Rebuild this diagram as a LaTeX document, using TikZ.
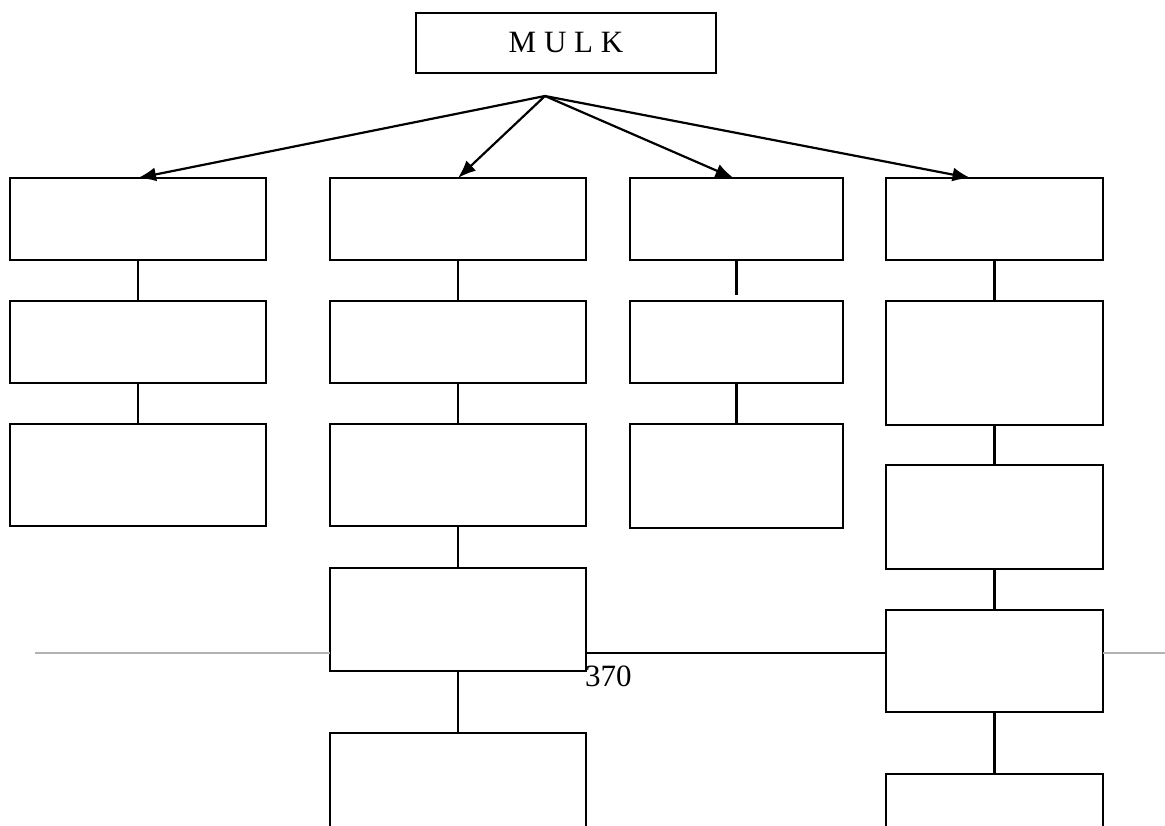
\documentclass[tikz,border=0pt]{standalone}
\usepackage{fontspec}
\setmainfont{Liberation Serif}
\usetikzlibrary{positioning, arrows.meta}
\tikzstyle{block} = [rectangle, 
draw=black, 
fill=white, 
line width=1.7pt, 
minimum width=256pt, 
minimum height=82pt, 
inner sep=0pt, 
outer sep=0pt]
\tikzstyle{title} = [block, 
minimum width=300pt, 
minimum height=60pt, 
font=\fontsize{31}{36}\selectfont]
\tikzstyle{arrow} = [line width=2.2pt, -{Latex[length=18pt, width=14pt]}]
\tikzstyle{link} = [line width=2.2pt]
\tikzstyle{footrule} = [line width=1.4pt]

\begin{document}
\begin{tikzpicture} [x=1pt, y=-1pt, node distance=41pt]
		\useasboundingbox (0,0) rectangle (1165,826);
		\clip (0,0) rectangle (1165,826);
		\node (mulk) [title] at (566,43) {M U L K};
		\coordinate (apex) at (545,96);
		% first column
		\node (a1) [block] at (138,219) {};
		\node (a2) [block, below=of a1] {};
		\node (a3) [block, below=of a2, minimum height=102pt] {};
		% second column
		\node (b1) [block] at (458,219) {};
		\node (b2) [block, below=of b1] {};
		\node (b3) [block, below=of b2, minimum height=102pt] {};
		\node (b4) [block, below=42pt of b3, minimum height=103pt] {};
		\node (b5) [block, below=62pt of b4, minimum height=150pt] {};
		% third column
		\node (c1) [block, minimum width=213pt] at (736.5,219) {};
		\node (c2) [block, below=of c1, minimum width=213pt] {};
		\node (c3) [block, below=of c2, minimum width=213pt, minimum height=104pt] {};
		% fourth column
		\node (d1) [block, minimum width=217pt] at (994.5,219) {};
		\node (d2) [block, below=of d1, minimum width=217pt, minimum height=124pt] {};
		\node (d3) [block, below=40pt of d2, minimum width=217pt, minimum height=104pt] {};
		\node (d4) [block, below=of d3, minimum width=217pt, minimum height=102pt] {};
		\node (d5) [block, below=62pt of d4, minimum width=217pt, minimum height=150pt] {};
		\draw [arrow] (apex) -- (a1.north);
		\draw [arrow] (apex) -- (b1.north);
		\draw [arrow] (apex) -- ([xshift=-3pt]c1.north);
		\draw [arrow] (apex) -- ([xshift=-24pt]d1.north);
		\draw [link] (a1) -- (a2);
		\draw [link] (a2) -- (a3);
		\draw [link] (b1) -- (b2);
		\draw [link] (b2) -- (b3);
		\draw [link] (b3) -- (b4);
		\draw [link] (b4) -- (b5);
		\draw [link] (c1.south) -- ([yshift=6pt]c2.north);
		\draw [link] (c2) -- (c3);
		\draw [link] (d1) -- (d2);
		\draw [link] (d2) -- (d3);
		\draw [link] (d3) -- (d4);
		\draw [link] (d4) -- (d5);
		% page rule and number
		\coordinate (rulel) at (35,653);
		\coordinate (ruler) at (1165,653);
		\draw [footrule, gray!60] (rulel) -- (rulel -| b4.west);
		\draw [footrule] (b4.east |- rulel) -- (d4.west |- rulel);
		\draw [footrule, gray!60] (d4.east |- rulel) -- (ruler);
		\node (page) [anchor=base west, inner sep=0pt, font=\fontsize{31}{36}\selectfont] at (585,686) {370};
	\end{tikzpicture}
\end{document}
